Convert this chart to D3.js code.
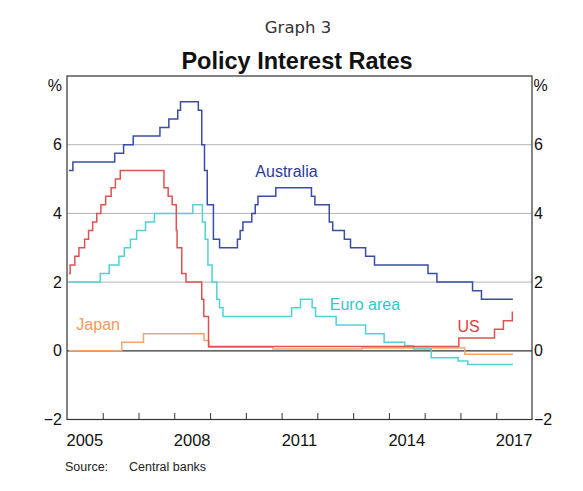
<!DOCTYPE html>
<html lang="en">
<head>
    <meta charset="UTF-8">
    <title>Policy Interest Rates</title>
    <style>
        body {
            margin: 0;
            background: #fff;
        }
        svg text {
            font-family: "Liberation Sans", Arial, sans-serif;
        }
        .grid {
            stroke: #b4b4b4;
            stroke-width: 1px;
        }
        .series {
            fill: none;
            stroke-width: 1.5px;
        }
    </style>
</head>
<body>
    <svg id="chart" width="583" height="491"></svg>

    <script src="https://d3js.org/d3.v7.min.js"></script>
    <script>
        // policy rates, step changes: [date, per cent]
        const australia = [
            ["2005-01-20", 5.25], ["2005-03-02", 5.5], ["2006-05-03", 5.75], ["2006-08-02", 6.0],
            ["2006-11-08", 6.25], ["2007-08-08", 6.5], ["2007-11-07", 6.75], ["2008-02-06", 7.0],
            ["2008-03-05", 7.25], ["2008-09-03", 7.0], ["2008-10-08", 6.0], ["2008-11-05", 5.25],
            ["2008-12-03", 4.25], ["2009-02-04", 3.25], ["2009-04-08", 3.0], ["2009-10-07", 3.25],
            ["2009-11-04", 3.5], ["2009-12-02", 3.75], ["2010-03-03", 4.0], ["2010-04-07", 4.25],
            ["2010-05-05", 4.5], ["2010-11-03", 4.75], ["2011-11-02", 4.5], ["2011-12-07", 4.25],
            ["2012-05-02", 3.75], ["2012-06-06", 3.5], ["2012-10-03", 3.25], ["2012-12-05", 3.0],
            ["2013-05-08", 2.75], ["2013-08-07", 2.5], ["2015-02-04", 2.25], ["2015-05-06", 2.0],
            ["2016-05-04", 1.75], ["2016-08-03", 1.5], ["2017-06-20", 1.5]
        ];
        const us = [
            ["2005-01-20", 2.25], ["2005-02-02", 2.5], ["2005-03-22", 2.75], ["2005-05-03", 3.0],
            ["2005-06-30", 3.25], ["2005-08-09", 3.5], ["2005-09-20", 3.75], ["2005-11-01", 4.0],
            ["2005-12-13", 4.25], ["2006-01-31", 4.5], ["2006-03-28", 4.75], ["2006-05-10", 5.0],
            ["2006-06-29", 5.25], ["2007-09-18", 4.75], ["2007-10-31", 4.5], ["2007-12-11", 4.25],
            ["2008-01-22", 3.5], ["2008-01-30", 3.0], ["2008-03-18", 2.25], ["2008-04-30", 2.0],
            ["2008-10-08", 1.5], ["2008-10-29", 1.0], ["2008-12-16", 0.125], ["2015-12-16", 0.375],
            ["2016-12-14", 0.625], ["2017-03-15", 0.875], ["2017-06-14", 1.125], ["2017-06-20", 1.125]
        ];
        const euroArea = [
            ["2005-01-20", 2.0], ["2005-12-06", 2.25], ["2006-03-08", 2.5], ["2006-06-15", 2.75],
            ["2006-08-09", 3.0], ["2006-10-11", 3.25], ["2006-12-13", 3.5], ["2007-03-14", 3.75],
            ["2007-06-13", 4.0], ["2008-07-09", 4.25], ["2008-10-15", 3.75], ["2008-11-12", 3.25],
            ["2008-12-10", 2.5], ["2009-01-21", 2.0], ["2009-03-11", 1.5], ["2009-04-08", 1.25],
            ["2009-05-13", 1.0], ["2011-04-13", 1.25], ["2011-07-13", 1.5], ["2011-11-09", 1.25],
            ["2011-12-14", 1.0], ["2012-07-11", 0.75], ["2013-05-08", 0.5], ["2013-11-13", 0.25],
            ["2014-06-11", 0.15], ["2014-09-10", 0.05], ["2015-03-09", -0.2], ["2015-12-09", -0.3],
            ["2016-03-16", -0.4], ["2017-06-20", -0.4]
        ];
        const japan = [
            ["2005-01-20", 0.0], ["2006-07-14", 0.25], ["2007-02-21", 0.5], ["2008-10-31", 0.3],
            ["2008-12-19", 0.1], ["2010-10-05", 0.05], ["2013-04-04", 0.08], ["2016-02-16", -0.1],
            ["2017-06-20", -0.1]
        ];

        const yTicks = [-2, 0, 2, 4, 6];
        const gridValues = [2, 4, 6];
        const yearLabels = [2005, 2008, 2011, 2014, 2017];

        // drawn back to front
        const seriesList = [
            { name: "Japan", data: japan, color: "#f5a56c", label: ["2005-11-15", 0.6] },
            { name: "Euro area", data: euroArea, color: "#4fd3d3", label: ["2013-05-01", 1.18] },
            { name: "US", data: us, color: "#e05252", label: ["2016-03-25", 0.55] },
            { name: "Australia", data: australia, color: "#3b4ca8", label: ["2011-02-20", 5.07] }
        ];
        const labelColors = { "Japan": "#f39a5c", "Euro area": "#33c6cc", "US": "#d94343", "Australia": "#2b3b9c" };

        const svg = d3.select("#chart");
        const plotLeft = 67, plotRight = 532, plotTop = 76, plotBottom = 419.5;
        const parse = d3.timeParse("%Y-%m-%d");

        const x = d3.scaleTime()
            .domain([new Date(2005, 0, 1), new Date(2018, 0, 1)])
            .range([plotLeft, plotRight]);
        const y = d3.scaleLinear()
            .domain([-2, 8])
            .range([plotBottom, plotTop]);

        // titles
        svg.append("text")
            .attr("x", 298).attr("y", 33)
            .attr("text-anchor", "middle")
            .style("font-family", "'DejaVu Sans', Verdana, sans-serif")
            .style("font-size", "16.5px")
            .attr("fill", "#333")
            .text("Graph 3");
        svg.append("text")
            .attr("x", 297).attr("y", 68.5)
            .attr("text-anchor", "middle")
            .style("font-size", "23.5px")
            .style("font-weight", "bold")
            .attr("fill", "#111")
            .text("Policy Interest Rates");

        // horizontal gridlines
        svg.append("g")
            .selectAll("line")
            .data(gridValues)
            .join("line")
            .attr("class", "grid")
            .attr("x1", plotLeft).attr("x2", plotRight)
            .attr("y1", d => y(d)).attr("y2", d => y(d));

        // zero line
        svg.append("line")
            .attr("x1", plotLeft).attr("x2", plotRight)
            .attr("y1", y(0)).attr("y2", y(0))
            .attr("stroke", "#333").attr("stroke-width", 1.2);

        // year ticks, inside the frame
        const yearTicks = d3.timeYear.range(new Date(2006, 0, 1), new Date(2018, 0, 1));
        svg.append("g")
            .attr("transform", `translate(0,${plotBottom})`)
            .call(d3.axisTop(x).tickValues(yearTicks).tickSize(6.5).tickFormat(""))
            .call(g => g.select(".domain").remove())
            .call(g => g.selectAll("line").attr("stroke", "#333"));

        // year labels centred in their year
        svg.append("g")
            .selectAll("text")
            .data(yearLabels)
            .join("text")
            .attr("x", d => x(new Date(d, 6, 2)))
            .attr("y", 446)
            .attr("text-anchor", "middle")
            .style("font-size", "16.5px")
            .attr("fill", "#111")
            .text(d => d);

        // left and right value labels
        const leftAxis = d3.axisLeft(y).tickValues(yTicks).tickSize(0).tickPadding(5).tickFormat(d3.format("d"));
        const rightAxis = d3.axisRight(y).tickValues(yTicks).tickSize(0).tickPadding(2).tickFormat(d3.format("d"));
        [[leftAxis, plotLeft], [rightAxis, plotRight]].forEach(([ax, pos]) => {
            svg.append("g")
                .attr("transform", `translate(${pos},0)`)
                .call(ax)
                .call(g => g.select(".domain").remove())
                .call(g => g.selectAll("text")
                    .style("font-size", "16px")
                    .style("font-family", "'Liberation Sans', Arial, sans-serif")
                    .attr("fill", "#111"));
        });
        svg.append("text").attr("x", plotLeft - 5).attr("y", plotTop + 14.5)
            .attr("text-anchor", "end").style("font-size", "16px").attr("fill", "#111").text("%");
        svg.append("text").attr("x", plotRight + 1.5).attr("y", plotTop + 14.5)
            .style("font-size", "16px").attr("fill", "#111").text("%");

        // series
        const line = d3.line()
            .curve(d3.curveStepAfter)
            .x(d => x(parse(d[0])))
            .y(d => y(d[1]));

        svg.append("g")
            .selectAll("path")
            .data(seriesList)
            .join("path")
            .attr("class", "series")
            .attr("stroke", d => d.color)
            .attr("d", d => line(d.data));

        svg.append("g")
            .selectAll("text")
            .data(seriesList)
            .join("text")
            .attr("x", d => x(parse(d.label[0])))
            .attr("y", d => y(d.label[1]))
            .attr("text-anchor", "middle")
            .style("font-size", "16px")
            .attr("fill", d => labelColors[d.name])
            .text(d => d.name);

        // frame
        svg.append("rect")
            .attr("x", plotLeft).attr("y", plotTop)
            .attr("width", plotRight - plotLeft).attr("height", plotBottom - plotTop)
            .attr("fill", "none")
            .attr("stroke", "#333")
            .attr("stroke-width", 1.2);

        // source note
        svg.append("text").attr("x", 65).attr("y", 471)
            .style("font-size", "12.5px").attr("fill", "#222").text("Source:");
        svg.append("text").attr("x", 129).attr("y", 471)
            .style("font-size", "12.5px").attr("fill", "#222").text("Central banks");
    </script>
</body>
</html>
